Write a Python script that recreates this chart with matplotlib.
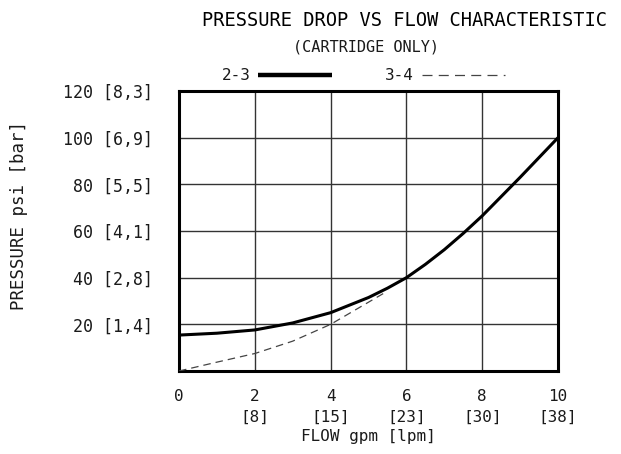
import matplotlib
matplotlib.use("Agg")
import matplotlib.pyplot as plt
from matplotlib.lines import Line2D

# Data
flow_23 = [0, 1, 2, 3, 4, 5, 5.5, 6, 6.5, 7, 7.5, 8, 9, 10]
pres_23 = [15.4, 16.2, 17.6, 20.6, 25.0, 31.5, 35.5, 40.0, 45.7, 52.0, 59.0, 66.5, 83.0, 100.0]
flow_34 = [0, 1, 2, 3, 4, 5, 5.4]
pres_34 = [0, 3.8, 7.5, 12.8, 20.0, 29.5, 33.3]

xticks = [0, 2, 4, 6, 8, 10]
xticklabels = ["0", "2\n[8]", "4\n[15]", "6\n[23]", "8\n[30]", "10\n[38]"]
yticks = [20, 40, 60, 80, 100, 120]
yticklabels = ["20 [1,4]", "40 [2,8]", "60 [4,1]", "80 [5,5]", "100 [6,9]", "120 [8,3]"]

title = "PRESSURE DROP VS FLOW CHARACTERISTIC"
subtitle = "(CARTRIDGE ONLY)"
xlabel = "FLOW gpm [lpm]"
ylabel = "PRESSURE psi [bar]"
legend_labels = ["2-3", "3-4"]

FONT = "DejaVu Sans Mono"
TXT = "#1a1a1a"
plt.rcParams["font.family"] = [FONT]

fig = plt.figure(figsize=(6.21, 4.54), dpi=100)
ax = fig.add_axes([0.2883, 0.1828, 0.6103, 0.6168])

ax.plot(flow_23, pres_23, color="black", lw=2.2, solid_capstyle="butt",
        solid_joinstyle="round", zorder=3)
ax.plot(flow_34, pres_34, color="#444444", lw=0.9, dashes=(6, 4), zorder=3)

ax.set_xlim(0, 10)
ax.set_ylim(0, 120)
ax.set_xticks(xticks)
ax.set_xticklabels(xticklabels, fontsize=11.5, color=TXT, linespacing=1.5)
ax.set_yticks(yticks)
ax.set_yticklabels(yticklabels, fontsize=12, color=TXT)
ax.tick_params(axis="both", length=0)
ax.tick_params(axis="x", pad=13)
ax.tick_params(axis="y", pad=19)
for lbl in ax.get_xticklabels():
    lbl.set_verticalalignment("top")

ax.grid(True, color="#333333", lw=1.0)
ax.set_axisbelow(True)
for s in ax.spines.values():
    s.set_linewidth(2.2)
    s.set_color("black")

ax.set_xlabel(xlabel, fontsize=11.5, color=TXT, labelpad=3)
fig.text(19 / 621, 1 - 215 / 454, ylabel, rotation=90, ha="center", va="center",
         fontsize=12.5, color=TXT)

fig.text(405 / 621, 1 - 20 / 454, title, ha="center", va="center",
         fontsize=13.5, color="black")
fig.text(366 / 621, 1 - 47 / 454, subtitle, ha="center", va="center",
         fontsize=11, color=TXT)

# legend
ly = 1 - 75 / 454
fig.text(236 / 621, ly, legend_labels[0], ha="center", va="center", fontsize=11.5, color=TXT)
fig.add_artist(Line2D([258 / 621, 332 / 621], [ly, ly], color="black", lw=3.2,
                      transform=fig.transFigure, solid_capstyle="butt"))
fig.text(399 / 621, ly, legend_labels[1], ha="center", va="center", fontsize=11.5, color=TXT)
fig.add_artist(Line2D([422 / 621, 505 / 621], [ly, ly], color="#444444", lw=0.9,
                      dashes=(8, 5), transform=fig.transFigure))

fig.savefig("out.png", dpi=100)
